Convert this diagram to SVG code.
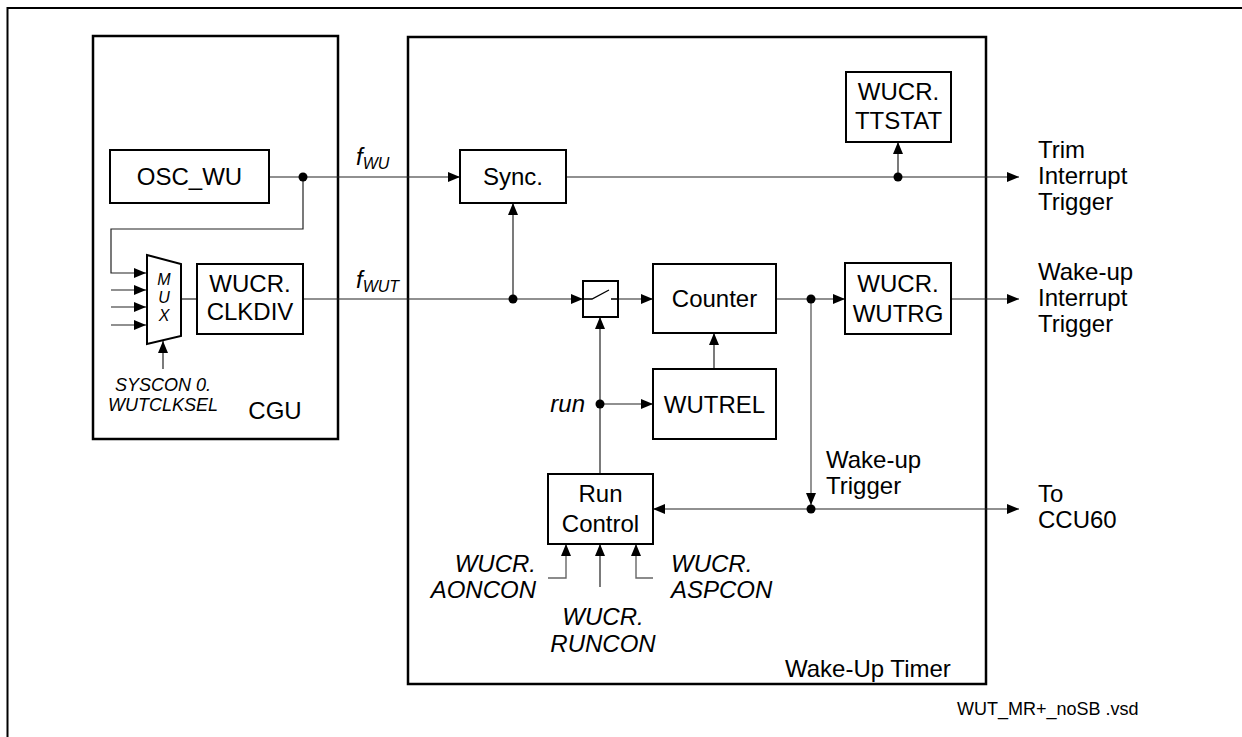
<svg xmlns="http://www.w3.org/2000/svg" width="1242" height="737" viewBox="0 0 1242 737">
<style>
.box{fill:#fff;stroke:#000;stroke-width:2}
.frame{fill:none;stroke:#000;stroke-width:2.5}
.t{font-family:"Liberation Sans",Arial,sans-serif;font-size:24px;fill:#000}
.i{font-family:"Liberation Sans",Arial,sans-serif;font-size:24px;font-style:italic;fill:#000}
.s{font-family:"Liberation Sans",Arial,sans-serif;font-size:18px;font-style:italic;fill:#000}
.mx{font-family:"Liberation Sans",Arial,sans-serif;font-size:16px;font-style:italic;fill:#000;text-anchor:middle}
.fn{font-family:"Liberation Sans",Arial,sans-serif;font-size:18px;fill:#000}
.m{text-anchor:middle}
.e{text-anchor:end}
.c{fill:none;stroke:#222;stroke-width:1.2}
.g{fill:none;stroke:#666;stroke-width:1.4}
.a{marker-end:url(#ah)}
.d{fill:#000}
</style>
<defs>
<marker id="ah" viewBox="0 0 12 10" refX="12" refY="5" markerWidth="12" markerHeight="10" markerUnits="userSpaceOnUse" orient="auto">
<path d="M0,0 L12,5 L0,10 z" fill="#000"/>
</marker>
</defs>
<rect width="1242" height="737" fill="#fff"/>
<path d="M7.5,737 V8 H1242" fill="none" stroke="#000" stroke-width="2"/>

<g id="cgu">
<rect class="frame" x="93" y="36" width="245" height="403"/>
<text class="t m" x="275" y="419">CGU</text>
</g>
<g id="wut">
<rect class="frame" x="408" y="37" width="578" height="647"/>
<text class="t" x="785" y="677">Wake-Up Timer</text>
</g>

<g id="connectors">
<path class="c a" d="M269,177 H460"/>
<path class="c a" d="M303,177 V229 H111 V273 H146"/>
<path class="c a" d="M111,290 H146"/>
<path class="c a" d="M111,307 H146"/>
<path class="c a" d="M111,325 H146"/>
<path class="c" d="M181,299 H197"/>
<path class="c a" d="M163,369 V341"/>
<path class="c a" d="M303,299 H583"/>
<path class="c a" d="M513,299 V203"/>
<path class="c a" d="M566,177 H1019"/>
<path class="c a" d="M898,177 V142"/>
<path class="c a" d="M618,299 H653"/>
<path class="c a" d="M776,299 H845"/>
<path class="c a" d="M951,299 H1019"/>
<path class="g a" d="M811,299 V505"/>
<path class="c a" d="M811,509 H1019"/>
<path class="c a" d="M811,509 H653"/>
<path class="c a" d="M600,474 V317"/>
<path class="c a" d="M600,404 H653"/>
<path class="c a" d="M714,369 V333"/>
<path class="g a" d="M548,578 H566 V544"/>
<path class="c a" d="M600,587 V544"/>
<path class="g a" d="M653,578 H636 V544"/>
<circle class="d" cx="303" cy="177" r="4.5"/>
<circle class="d" cx="513" cy="299" r="4.5"/>
<circle class="d" cx="898" cy="177" r="4.5"/>
<circle class="d" cx="811" cy="299" r="4.5"/>
<circle class="d" cx="811" cy="509" r="4.5"/>
<circle class="d" cx="600" cy="404" r="4.5"/>
</g>

<g id="osc_wu">
<rect class="box" x="110" y="150" width="159" height="53"/>
<text class="t m" x="189.5" y="185">OSC_WU</text>
</g>
<g id="mux">
<polygon class="box" points="147,255 181,264 181,336 147,344"/>
<text class="mx" x="164" y="285">M</text>
<text class="mx" x="164" y="303">U</text>
<text class="mx" x="164" y="321">X</text>
</g>
<g id="syscon">
<text class="s m" x="163" y="391">SYSCON 0.</text>
<text class="s m" x="163" y="411">WUTCLKSEL</text>
</g>
<g id="clkdiv">
<rect class="box" x="197" y="264" width="106" height="70"/>
<text class="t m" x="250" y="292">WUCR.</text>
<text class="t m" x="250" y="320">CLKDIV</text>
</g>
<g id="fwu">
<text class="i" x="356" y="165">f<tspan font-size="16" dy="4">WU</tspan></text>
</g>
<g id="fwut">
<text class="i" x="356" y="288">f<tspan font-size="16" dy="4">WUT</tspan></text>
</g>
<g id="sync">
<rect class="box" x="460" y="150" width="106" height="53"/>
<text class="t m" x="513" y="185">Sync.</text>
</g>
<g id="ttstat">
<rect class="box" x="846" y="72" width="105" height="70"/>
<text class="t m" x="898.5" y="100">WUCR.</text>
<text class="t m" x="898.5" y="129">TTSTAT</text>
</g>
<g id="switch">
<rect class="box" x="583" y="281" width="35" height="36"/>
<path d="M583,299 H592 L609,290 M611,299 H618" fill="none" stroke="#000" stroke-width="1.3"/>
</g>
<g id="counter">
<rect class="box" x="653" y="264" width="123" height="69"/>
<text class="t m" x="714.5" y="307">Counter</text>
</g>
<g id="wutrel">
<rect class="box" x="653" y="369" width="123" height="70"/>
<text class="t m" x="714.5" y="413">WUTREL</text>
</g>
<g id="wutrg">
<rect class="box" x="845" y="263" width="106" height="71"/>
<text class="t m" x="898" y="292">WUCR.</text>
<text class="t m" x="898" y="322">WUTRG</text>
</g>
<g id="runcontrol">
<rect class="box" x="548" y="474" width="105" height="70"/>
<text class="t m" x="600.5" y="502">Run</text>
<text class="t m" x="600.5" y="532">Control</text>
</g>
<g id="run">
<text class="i e" x="585" y="412">run</text>
</g>
<g id="aoncon">
<text class="i e" x="536" y="572">WUCR.</text>
<text class="i e" x="536" y="598">AONCON</text>
</g>
<g id="runcon">
<text class="i m" x="603" y="625">WUCR.</text>
<text class="i m" x="603" y="652">RUNCON</text>
</g>
<g id="aspcon">
<text class="i" x="671" y="572">WUCR.</text>
<text class="i" x="671" y="598">ASPCON</text>
</g>
<g id="wakeup_trigger">
<text class="t" x="826" y="468">Wake-up</text>
<text class="t" x="826" y="494">Trigger</text>
</g>
<g id="trim_out">
<text class="t" x="1038" y="158">Trim</text>
<text class="t" x="1038" y="184">Interrupt</text>
<text class="t" x="1038" y="210">Trigger</text>
</g>
<g id="wakeup_out">
<text class="t" x="1038" y="280">Wake-up</text>
<text class="t" x="1038" y="306">Interrupt</text>
<text class="t" x="1038" y="332">Trigger</text>
</g>
<g id="ccu60_out">
<text class="t" x="1038" y="502">To</text>
<text class="t" x="1038" y="528">CCU60</text>
</g>
<text class="fn" x="957" y="715">WUT_MR+_noSB .vsd</text>
</svg>
